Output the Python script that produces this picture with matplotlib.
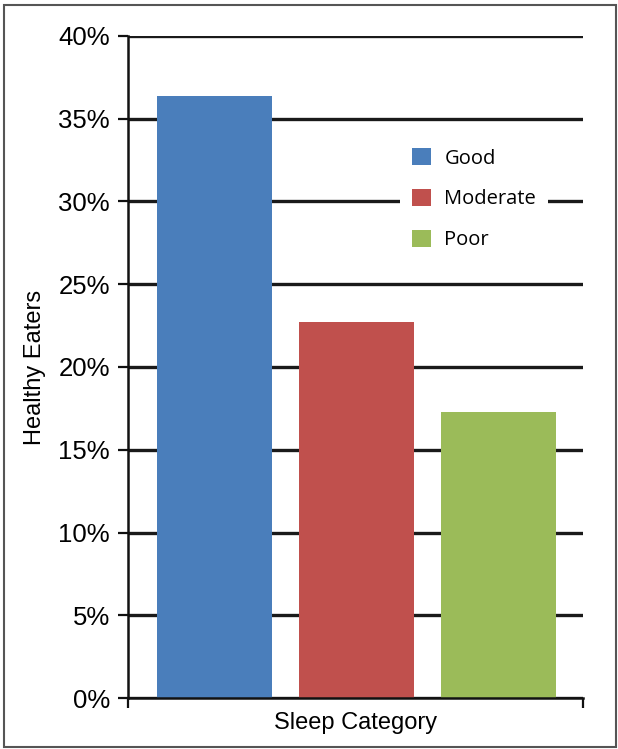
import matplotlib.pyplot as plt
import matplotlib.patches as mpatches
from matplotlib.ticker import FuncFormatter, FixedLocator

# ── DATA ──────────────────────────────────────────────
CATEGORIES = ["Good", "Moderate", "Poor"]
VALUES = [36.4, 22.7, 17.3]          # % healthy eaters
COLORS = ["#4A7EBB", "#C0504D", "#9BBB59"]
YTICKS = [0, 5, 10, 15, 20, 25, 30, 35, 40]

TICK_FONT = ["Liberation Sans", "DejaVu Sans"]
LEG_FONT = ["Open Sans", "DejaVu Sans"]

fig = plt.figure(figsize=(6.18, 7.49), dpi=100)
ax = fig.add_axes([128 / 618, 1 - 698 / 749, (583 - 128) / 618, (698 - 36) / 749])

x = list(range(len(CATEGORIES)))
ax.bar(x, VALUES, width=0.81, color=COLORS, edgecolor="none", zorder=2)

ax.set_xlim(-0.609, 2.595)
ax.set_ylim(0, 40)

# y axis
ax.yaxis.set_major_locator(FixedLocator(YTICKS))
ax.yaxis.set_major_formatter(FuncFormatter(lambda v, p: f"{v:.0f}%"))
ax.tick_params(axis="y", direction="out", length=7, width=1.6, color="#111111",
               labelsize=18.5, pad=6)
for lab in ax.get_yticklabels():
    lab.set_family(TICK_FONT)

# x axis: only edge ticks, no labels
ax.set_xticks([])
ax.xaxis.set_minor_locator(FixedLocator([-0.609, 2.595]))
ax.tick_params(axis="x", which="minor", direction="out", length=7, width=1.6,
               color="#111111", labelbottom=False)

ax.grid(axis="y", color="#1a1a1a", linewidth=2.4, zorder=1)
ax.set_axisbelow(True)

for s in ["top", "right"]:
    ax.spines[s].set_visible(False)
for s in ["left", "bottom"]:
    ax.spines[s].set_linewidth(1.8)
    ax.spines[s].set_color("#111111")

ax.set_xlabel("Sleep Category", fontsize=17, family=TICK_FONT, labelpad=3)
ax.set_ylabel("Healthy Eaters", fontsize=17, family=TICK_FONT)
ax.yaxis.set_label_coords(-(128 - 46) / 455, 0.5)

# legend
handles = [mpatches.Patch(facecolor=c, edgecolor="none", label=l)
           for c, l in zip(COLORS, CATEGORIES)]
leg = ax.legend(handles=handles, loc="upper left",
                bbox_to_anchor=((400 - 128) / 455, (698 - 136) / 662),
                frameon=True, fancybox=False, facecolor="white", edgecolor="none",
                framealpha=1, prop={"family": LEG_FONT, "size": 14.5},
                handlelength=0.95, handleheight=0.95, handletextpad=0.65,
                labelspacing=1.0, borderpad=0.6, borderaxespad=0)
leg.set_zorder(5)

# figure border
fig.patches.append(mpatches.Rectangle((4 / 618, 2 / 749), 612 / 618, 742 / 749,
                                      transform=fig.transFigure, fill=False,
                                      edgecolor="#555555", linewidth=1.5))

fig.savefig("out.png", dpi=100)
